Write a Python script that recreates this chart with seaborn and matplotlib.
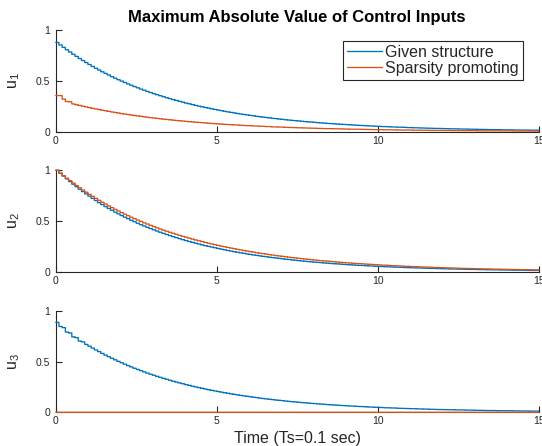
import numpy as np
import pandas as pd
import matplotlib
matplotlib.use("Agg")
import matplotlib.pyplot as plt
import seaborn as sns

# ---------------- data ----------------
TS = 0.1  # sample time, from "Time (Ts=0.1 sec)"
series_names = ["Given structure", "Sparsity promoting"]
panel_labels = ["u$_1$", "u$_2$", "u$_3$"]
x_ticks = [0, 5, 10, 15]
y_ticks = [0, 0.5, 1]
y_tick_labels = ["0", "0.5", "1"]
title_text = "Maximum Absolute Value of Control Inputs"
xlabel_text = "Time (Ts=0.1 sec)"

u1_given = [
    0.880, 0.855, 0.831, 0.808, 0.785, 0.763, 0.742, 0.721, 0.701, 0.681,
    0.662, 0.643, 0.625, 0.608, 0.590, 0.574, 0.558, 0.542, 0.527, 0.512,
    0.498, 0.484, 0.470, 0.457, 0.444, 0.432, 0.419, 0.408, 0.396, 0.385,
    0.374, 0.364, 0.354, 0.344, 0.334, 0.325, 0.315, 0.307, 0.298, 0.290,
    0.281, 0.274, 0.266, 0.258, 0.251, 0.244, 0.237, 0.231, 0.224, 0.218,
    0.212, 0.206, 0.200, 0.194, 0.189, 0.184, 0.178, 0.173, 0.168, 0.164,
    0.159, 0.155, 0.150, 0.146, 0.142, 0.138, 0.134, 0.130, 0.127, 0.123,
    0.120, 0.116, 0.113, 0.110, 0.107, 0.104, 0.101, 0.098, 0.095, 0.093,
    0.090, 0.087, 0.085, 0.083, 0.080, 0.078, 0.076, 0.074, 0.072, 0.070,
    0.068, 0.066, 0.064, 0.062, 0.060, 0.059, 0.057, 0.055, 0.054, 0.052,
    0.051, 0.049, 0.048, 0.047, 0.045, 0.044, 0.043, 0.042, 0.041, 0.039,
    0.038, 0.037, 0.036, 0.035, 0.034, 0.033, 0.032, 0.031, 0.030, 0.030,
    0.029, 0.028, 0.027, 0.026, 0.026, 0.025, 0.024, 0.024, 0.023, 0.022,
    0.022, 0.021, 0.020, 0.020, 0.019, 0.019, 0.018, 0.018, 0.017, 0.017,
    0.016, 0.016, 0.015, 0.015, 0.015, 0.014, 0.014, 0.013, 0.013, 0.013,
    0.012,
]

u1_sparse = [
    0.355, 0.355, 0.320, 0.296, 0.294, 0.272, 0.264, 0.257, 0.250, 0.243,
    0.236, 0.229, 0.223, 0.217, 0.210, 0.205, 0.199, 0.193, 0.188, 0.183,
    0.177, 0.172, 0.168, 0.163, 0.158, 0.154, 0.150, 0.145, 0.141, 0.137,
    0.133, 0.130, 0.126, 0.122, 0.119, 0.116, 0.112, 0.109, 0.106, 0.103,
    0.100, 0.097, 0.095, 0.092, 0.090, 0.087, 0.085, 0.082, 0.080, 0.078,
    0.075, 0.073, 0.071, 0.069, 0.067, 0.065, 0.064, 0.062, 0.060, 0.058,
    0.057, 0.055, 0.054, 0.052, 0.051, 0.049, 0.048, 0.046, 0.045, 0.044,
    0.043, 0.041, 0.040, 0.039, 0.038, 0.037, 0.036, 0.035, 0.034, 0.033,
    0.032, 0.031, 0.030, 0.029, 0.029, 0.028, 0.027, 0.026, 0.026, 0.025,
    0.024, 0.023, 0.023, 0.022, 0.022, 0.021, 0.020, 0.020, 0.019, 0.019,
    0.018, 0.018, 0.017, 0.017, 0.016, 0.016, 0.015, 0.015, 0.014, 0.014,
    0.014, 0.013, 0.013, 0.013, 0.012, 0.012, 0.011, 0.011, 0.011, 0.011,
    0.010, 0.010, 0.010, 0.009, 0.009, 0.009, 0.009, 0.008, 0.008, 0.008,
    0.008, 0.007, 0.007, 0.007, 0.007, 0.007, 0.007, 0.006, 0.006, 0.006,
    0.006, 0.006, 0.005, 0.005, 0.005, 0.005, 0.005, 0.005, 0.005, 0.004,
    0.004,
]

u2_given = [
    1.000, 0.971, 0.943, 0.915, 0.889, 0.863, 0.838, 0.813, 0.790, 0.767,
    0.745, 0.723, 0.702, 0.681, 0.662, 0.642, 0.624, 0.606, 0.588, 0.571,
    0.554, 0.538, 0.523, 0.507, 0.493, 0.478, 0.464, 0.451, 0.438, 0.425,
    0.413, 0.401, 0.389, 0.378, 0.367, 0.356, 0.346, 0.336, 0.326, 0.316,
    0.307, 0.298, 0.290, 0.281, 0.273, 0.265, 0.257, 0.250, 0.243, 0.236,
    0.229, 0.222, 0.216, 0.209, 0.203, 0.197, 0.192, 0.186, 0.181, 0.175,
    0.170, 0.165, 0.161, 0.156, 0.151, 0.147, 0.143, 0.139, 0.135, 0.131,
    0.127, 0.123, 0.120, 0.116, 0.113, 0.109, 0.106, 0.103, 0.100, 0.097,
    0.094, 0.092, 0.089, 0.086, 0.084, 0.081, 0.079, 0.077, 0.075, 0.072,
    0.070, 0.068, 0.066, 0.064, 0.062, 0.061, 0.059, 0.057, 0.056, 0.054,
    0.052, 0.051, 0.049, 0.048, 0.047, 0.045, 0.044, 0.043, 0.041, 0.040,
    0.039, 0.038, 0.037, 0.036, 0.035, 0.034, 0.033, 0.032, 0.031, 0.030,
    0.029, 0.028, 0.027, 0.027, 0.026, 0.025, 0.024, 0.024, 0.023, 0.022,
    0.022, 0.021, 0.020, 0.020, 0.019, 0.019, 0.018, 0.018, 0.017, 0.017,
    0.016, 0.016, 0.015, 0.015, 0.014, 0.014, 0.013, 0.013, 0.013, 0.012,
    0.012,
]

u2_sparse = [
    1.000, 0.973, 0.947, 0.922, 0.898, 0.874, 0.850, 0.828, 0.806, 0.784,
    0.763, 0.743, 0.723, 0.704, 0.685, 0.667, 0.649, 0.632, 0.615, 0.599,
    0.583, 0.567, 0.552, 0.537, 0.523, 0.509, 0.496, 0.482, 0.470, 0.457,
    0.445, 0.433, 0.421, 0.410, 0.399, 0.389, 0.378, 0.368, 0.358, 0.349,
    0.340, 0.331, 0.322, 0.313, 0.305, 0.297, 0.289, 0.281, 0.274, 0.266,
    0.259, 0.252, 0.246, 0.239, 0.233, 0.227, 0.220, 0.215, 0.209, 0.203,
    0.198, 0.193, 0.187, 0.182, 0.178, 0.173, 0.168, 0.164, 0.159, 0.155,
    0.151, 0.147, 0.143, 0.139, 0.136, 0.132, 0.128, 0.125, 0.122, 0.118,
    0.115, 0.112, 0.109, 0.106, 0.104, 0.101, 0.098, 0.095, 0.093, 0.090,
    0.088, 0.086, 0.083, 0.081, 0.079, 0.077, 0.075, 0.073, 0.071, 0.069,
    0.067, 0.065, 0.064, 0.062, 0.060, 0.059, 0.057, 0.056, 0.054, 0.053,
    0.051, 0.050, 0.049, 0.047, 0.046, 0.045, 0.044, 0.042, 0.041, 0.040,
    0.039, 0.038, 0.037, 0.036, 0.035, 0.034, 0.033, 0.032, 0.032, 0.031,
    0.030, 0.029, 0.028, 0.028, 0.027, 0.026, 0.025, 0.025, 0.024, 0.023,
    0.023, 0.022, 0.022, 0.021, 0.020, 0.020, 0.019, 0.019, 0.018, 0.018,
    0.017,
]

u3_given = [
    0.888, 0.847, 0.836, 0.792, 0.783, 0.745, 0.737, 0.703, 0.695, 0.670,
    0.653, 0.634, 0.616, 0.599, 0.581, 0.565, 0.549, 0.533, 0.518, 0.503,
    0.489, 0.475, 0.461, 0.448, 0.435, 0.423, 0.411, 0.399, 0.387, 0.376,
    0.366, 0.355, 0.345, 0.335, 0.326, 0.316, 0.307, 0.298, 0.290, 0.282,
    0.274, 0.266, 0.258, 0.251, 0.244, 0.237, 0.230, 0.223, 0.217, 0.211,
    0.205, 0.199, 0.193, 0.188, 0.182, 0.177, 0.172, 0.167, 0.162, 0.158,
    0.153, 0.149, 0.145, 0.140, 0.136, 0.132, 0.129, 0.125, 0.121, 0.118,
    0.115, 0.111, 0.108, 0.105, 0.102, 0.099, 0.096, 0.094, 0.091, 0.088,
    0.086, 0.083, 0.081, 0.079, 0.076, 0.074, 0.072, 0.070, 0.068, 0.066,
    0.064, 0.062, 0.061, 0.059, 0.057, 0.056, 0.054, 0.052, 0.051, 0.049,
    0.048, 0.047, 0.045, 0.044, 0.043, 0.042, 0.040, 0.039, 0.038, 0.037,
    0.036, 0.035, 0.034, 0.033, 0.032, 0.031, 0.030, 0.029, 0.028, 0.028,
    0.027, 0.026, 0.025, 0.025, 0.024, 0.023, 0.023, 0.022, 0.021, 0.021,
    0.020, 0.020, 0.019, 0.018, 0.018, 0.017, 0.017, 0.016, 0.016, 0.015,
    0.015, 0.015, 0.014, 0.014, 0.013, 0.013, 0.013, 0.012, 0.012, 0.012,
    0.011,
]

u3_sparse = [
    0, 0, 0, 0, 0, 0, 0, 0, 0, 0, 0, 0, 0, 0, 0, 0, 0, 0, 0, 0,
    0, 0, 0, 0, 0, 0, 0, 0, 0, 0, 0, 0, 0, 0, 0, 0, 0, 0, 0, 0,
    0, 0, 0, 0, 0, 0, 0, 0, 0, 0, 0, 0, 0, 0, 0, 0, 0, 0, 0, 0,
    0, 0, 0, 0, 0, 0, 0, 0, 0, 0, 0, 0, 0, 0, 0, 0, 0, 0, 0, 0,
    0, 0, 0, 0, 0, 0, 0, 0, 0, 0, 0, 0, 0, 0, 0, 0, 0, 0, 0, 0,
    0, 0, 0, 0, 0, 0, 0, 0, 0, 0, 0, 0, 0, 0, 0, 0, 0, 0, 0, 0,
    0, 0, 0, 0, 0, 0, 0, 0, 0, 0, 0, 0, 0, 0, 0, 0, 0, 0, 0, 0,
    0, 0, 0, 0, 0, 0, 0, 0, 0, 0, 0,
]

panels = [(u1_given, u1_sparse), (u2_given, u2_sparse), (u3_given, u3_sparse)]

# ---------------- style ----------------
sns.set_style("ticks")
plt.rcParams["font.family"] = ["Liberation Sans", "DejaVu Sans"]
plt.rcParams["mathtext.fontset"] = "custom"
plt.rcParams["mathtext.rm"] = "Liberation Sans"
plt.rcParams["mathtext.default"] = "regular"

colors = ["#0072BD", "#D95319"]
axis_color = "#262626"

W, H = 542, 446
fig = plt.figure(figsize=(W / 100, H / 100), dpi=100)

left = 55.7 / W
width = 483.0 / W
tops = [30.3, 170.3, 311.0]
bottoms = [131.5, 271.7, 412.3]

axes = []
for i, (given, sparse) in enumerate(panels):
    ax = fig.add_axes([left, 1 - bottoms[i] / H, width, (bottoms[i] - tops[i]) / H])
    axes.append(ax)
    n = len(given)
    time = np.arange(n) * TS
    df = pd.DataFrame({
        "Time": np.concatenate([time, time]),
        "Value": np.concatenate([np.asarray(given, float), np.asarray(sparse, float)]),
        "Series": [series_names[0]] * n + [series_names[1]] * n,
    })
    sns.lineplot(data=df, x="Time", y="Value", hue="Series", hue_order=series_names,
                 palette=colors, drawstyle="steps-post", linewidth=0.95,
                 estimator=None, ax=ax, legend=False, clip_on=False, zorder=3,
                 snap=False)
    ax.set_xlim(0, 15)
    ax.set_ylim(0, 1)
    ax.set_xticks(x_ticks)
    ax.set_xticklabels([str(t) for t in x_ticks])
    ax.set_yticks(y_ticks)
    ax.set_yticklabels(y_tick_labels)
    ax.tick_params(direction="in", length=4, width=0.8, color=axis_color,
                   labelsize=7.5, labelcolor=axis_color)
    ax.tick_params(axis="y", pad=4)
    ax.tick_params(axis="x", pad=3)
    for side in ["top", "right"]:
        ax.spines[side].set_visible(False)
    for side in ["left", "bottom"]:
        ax.spines[side].set_color(axis_color)
        ax.spines[side].set_linewidth(0.8)
    ax.set_xlabel("")
    ax.set_ylabel(panel_labels[i], fontsize=11.5, color=axis_color)
    ax.yaxis.set_label_coords(-0.07, 0.5)

axes[0].set_title(title_text, fontsize=12, fontweight="bold", color="black", pad=6)
axes[2].set_xlabel(xlabel_text, fontsize=11.5, color=axis_color, labelpad=3)

handles = axes[0].get_lines()[:2]
leg = axes[0].legend(handles, series_names, loc="upper right",
                     bbox_to_anchor=(0.9675, 0.894), borderaxespad=0,
                     fontsize=11.5, frameon=True, fancybox=False,
                     handlelength=2.2, handletextpad=0.2, borderpad=0.25,
                     labelspacing=0.05)
leg.get_frame().set_edgecolor(axis_color)
leg.get_frame().set_linewidth(0.8)
leg.get_frame().set_alpha(1)

fig.savefig("out.png", dpi=100)
